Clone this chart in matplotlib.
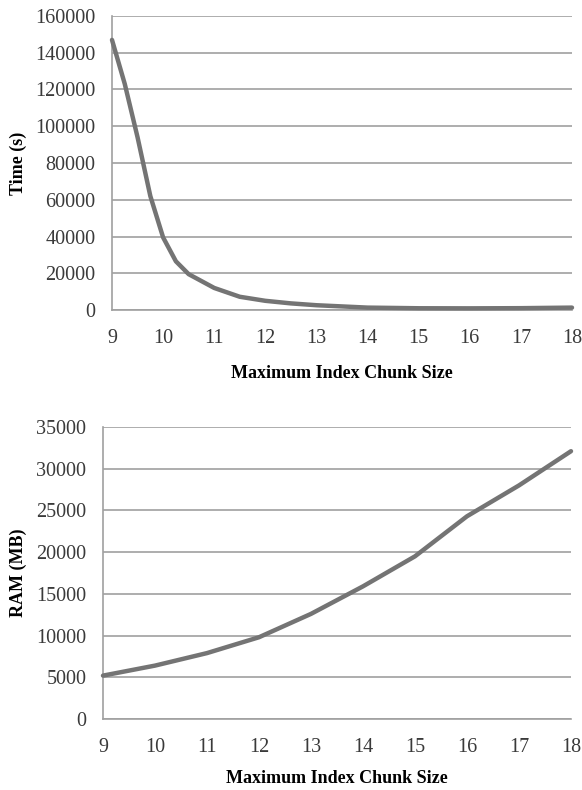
import matplotlib
matplotlib.use('Agg')
import matplotlib.pyplot as plt

# chunk size vs. run time / memory
time_x = [9, 9.25, 9.5, 9.75, 10, 10.25, 10.5, 11, 11.5, 12, 12.5, 13, 14, 15, 16, 17, 18]
time_s = [147000, 123000, 94000, 62000, 39500, 26500, 19500, 12000, 7200, 5000, 3600, 2600,
          1300, 950, 900, 1000, 1300]

ram_x = [9, 10, 11, 12, 13, 14, 15, 16, 17, 18]
ram_mb = [5200, 6400, 7900, 9800, 12600, 15900, 19500, 24300, 28000, 32100]

xticks = list(range(9, 19))

plt.rcParams['font.family'] = ['Liberation Serif', 'DejaVu Serif']

line_col = '#747474'
grid_col = '#a0a0a0'

W, H = 582, 790
fig = plt.figure(figsize=(W / 100, H / 100), dpi=100)
ax1 = fig.add_axes([112 / W, 1 - 310 / H, 460 / W, 294 / H])
ax2 = fig.add_axes([103 / W, 1 - 719 / H, 468 / W, 292 / H])


def style(ax, ymax, ystep, ylabel, labx, xpad):
    ax.set_xlim(9, 18)
    ax.set_ylim(0, ymax)
    ax.set_xticks(xticks)
    ax.set_yticks(range(0, ymax + 1, ystep))
    ax.yaxis.grid(True, color=grid_col, linewidth=1.2)
    ax.set_axisbelow(True)
    for s in ['top', 'right']:
        ax.spines[s].set_visible(False)
    for s in ['left', 'bottom']:
        ax.spines[s].set_color(grid_col)
        ax.spines[s].set_linewidth(1.2)
    ax.tick_params(length=0, labelsize=14.5, colors='#3a3a3a')
    ax.tick_params(axis='x', pad=14)
    ax.tick_params(axis='y', pad=12)
    ax.set_xlabel('Maximum Index Chunk Size', fontsize=13, fontweight='bold', labelpad=xpad)
    ax.set_ylabel(ylabel, fontsize=13, fontweight='bold')
    ax.yaxis.set_label_coords(labx, 0.5)


ax1.plot(time_x, time_s, color=line_col, linewidth=3.2, solid_joinstyle='round',
         solid_capstyle='round', clip_on=False, zorder=3)
style(ax1, 160000, 20000, 'Time (s)', -0.185, 12)

ax2.plot(ram_x, ram_mb, color=line_col, linewidth=3.2, solid_joinstyle='round',
         solid_capstyle='round', clip_on=False, zorder=3)
style(ax2, 35000, 5000, 'RAM (MB)', -0.162, 9)

plt.savefig('out.png', dpi=100)
